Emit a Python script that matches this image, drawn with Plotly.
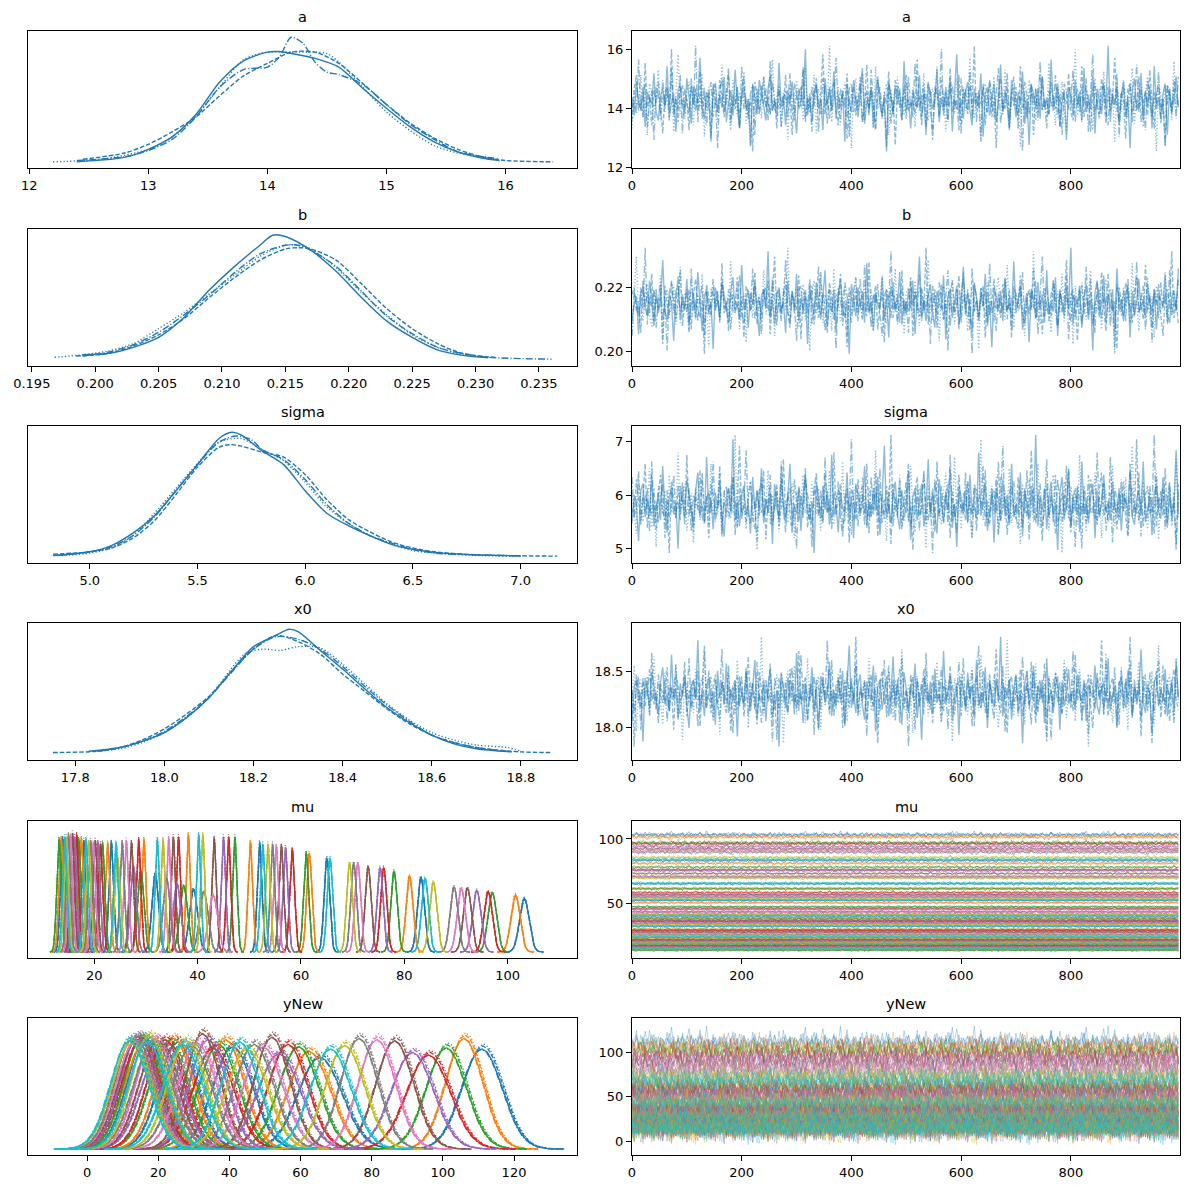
import numpy as np
import plotly.graph_objects as go

TAB10 = ["#1f77b4", "#ff7f0e", "#2ca02c", "#d62728", "#9467bd",
         "#8c564b", "#e377c2", "#7f7f7f", "#bcbd22", "#17becf"]
C0 = "#1f77b4"
C0_TRACE = "rgba(31,119,180,0.5)"
CHAIN_DASH = ["solid", "4.5px,2px", "1.2px,2.2px", "7px,2px,1.2px,2px"]
FONT = "DejaVu Sans"

# ---- densities of the scalar parameters, one list per chain (relative height) ----
A_KDE_X = [
    [12.4, 12.8, 13.0, 13.2, 13.4, 13.6, 13.8, 14.0, 14.1, 14.2, 14.4, 14.6, 14.8, 15.0, 15.2, 15.4, 15.6, 15.8, 15.95],
    [12.45, 12.8, 13.0, 13.2, 13.4, 13.6, 13.8, 14.0, 14.2, 14.4, 14.6, 14.8, 15.0, 15.2, 15.4, 15.6, 15.8, 16.0, 16.4],
    [12.2, 12.6, 13.0, 13.2, 13.4, 13.6, 13.8, 14.0, 14.2, 14.4, 14.5, 14.6, 14.8, 15.0, 15.2, 15.4, 15.6, 15.8, 15.95],
    [12.4, 12.8, 13.0, 13.2, 13.4, 13.6, 13.8, 14.0, 14.1, 14.2, 14.3, 14.4, 14.5, 14.6, 14.8, 15.0, 15.2, 15.4, 15.6, 15.9],
]
A_KDE_Y = [
    [0.0, 0.035, 0.10, 0.20, 0.38, 0.64, 0.81, 0.88, 0.885, 0.87, 0.83, 0.76, 0.59, 0.43, 0.28, 0.16, 0.08, 0.03, 0.01],
    [0.02, 0.07, 0.14, 0.24, 0.36, 0.53, 0.69, 0.79, 0.88, 0.88, 0.79, 0.63, 0.46, 0.31, 0.19, 0.10, 0.04, 0.01, 0.0],
    [0.0, 0.02, 0.10, 0.20, 0.37, 0.60, 0.82, 0.88, 0.88, 0.88, 0.87, 0.80, 0.60, 0.40, 0.25, 0.13, 0.07, 0.04, 0.02],
    [0.01, 0.04, 0.09, 0.18, 0.36, 0.60, 0.74, 0.76, 0.84, 1.0, 0.95, 0.80, 0.72, 0.70, 0.62, 0.46, 0.30, 0.18, 0.08, 0.03],
]
B_KDE_X = [
    [0.199, 0.201, 0.203, 0.205, 0.207, 0.209, 0.211, 0.213, 0.214, 0.215, 0.217, 0.219, 0.221, 0.223, 0.225, 0.227, 0.229, 0.231],
    [0.1985, 0.201, 0.203, 0.205, 0.207, 0.209, 0.211, 0.213, 0.215, 0.216, 0.217, 0.219, 0.221, 0.223, 0.225, 0.227, 0.229, 0.2315],
    [0.1968, 0.199, 0.201, 0.203, 0.205, 0.207, 0.209, 0.211, 0.213, 0.215, 0.216, 0.217, 0.219, 0.221, 0.223, 0.225, 0.227, 0.229, 0.231],
    [0.199, 0.201, 0.203, 0.205, 0.207, 0.209, 0.211, 0.213, 0.215, 0.216, 0.217, 0.219, 0.221, 0.223, 0.225, 0.227, 0.229, 0.231, 0.236],
]
B_KDE_Y = [
    [0.04, 0.05, 0.10, 0.18, 0.34, 0.56, 0.75, 0.92, 1.0, 0.99, 0.88, 0.71, 0.50, 0.31, 0.18, 0.08, 0.035, 0.015],
    [0.03, 0.05, 0.11, 0.20, 0.33, 0.50, 0.66, 0.80, 0.89, 0.90, 0.89, 0.80, 0.61, 0.41, 0.25, 0.13, 0.05, 0.02],
    [0.02, 0.04, 0.07, 0.13, 0.25, 0.38, 0.53, 0.68, 0.83, 0.92, 0.92, 0.89, 0.74, 0.54, 0.36, 0.20, 0.10, 0.04, 0.02],
    [0.03, 0.06, 0.12, 0.22, 0.36, 0.52, 0.70, 0.85, 0.92, 0.92, 0.88, 0.75, 0.55, 0.35, 0.21, 0.10, 0.05, 0.02, 0.005],
]
SIGMA_KDE_X = [
    [4.83, 5.0, 5.1, 5.2, 5.3, 5.4, 5.5, 5.6, 5.66, 5.7, 5.8, 5.9, 6.0, 6.1, 6.2, 6.3, 6.4, 6.5, 6.6, 6.8, 7.0],
    [4.83, 5.0, 5.1, 5.2, 5.3, 5.4, 5.5, 5.6, 5.65, 5.7, 5.8, 5.9, 6.0, 6.1, 6.2, 6.3, 6.4, 6.5, 6.6, 6.8, 7.0, 7.17],
    [4.87, 5.0, 5.1, 5.2, 5.3, 5.4, 5.5, 5.6, 5.7, 5.8, 5.9, 6.0, 6.1, 6.2, 6.3, 6.4, 6.5, 6.6, 6.8, 7.0],
    [4.85, 5.0, 5.1, 5.2, 5.3, 5.4, 5.5, 5.6, 5.68, 5.75, 5.8, 5.9, 6.0, 6.1, 6.2, 6.3, 6.4, 6.5, 6.6, 6.8, 7.0],
]
SIGMA_KDE_Y = [
    [0.01, 0.04, 0.09, 0.19, 0.33, 0.53, 0.74, 0.95, 1.0, 0.98, 0.85, 0.74, 0.53, 0.35, 0.25, 0.17, 0.10, 0.06, 0.035, 0.015, 0.008],
    [0.02, 0.04, 0.07, 0.15, 0.29, 0.50, 0.72, 0.88, 0.90, 0.89, 0.84, 0.80, 0.66, 0.46, 0.30, 0.20, 0.12, 0.07, 0.04, 0.015, 0.008, 0.005],
    [0.01, 0.03, 0.07, 0.17, 0.35, 0.55, 0.75, 0.92, 0.95, 0.86, 0.77, 0.60, 0.40, 0.27, 0.17, 0.10, 0.05, 0.03, 0.01, 0.005],
    [0.01, 0.04, 0.08, 0.17, 0.32, 0.53, 0.74, 0.92, 0.97, 0.94, 0.86, 0.78, 0.62, 0.42, 0.27, 0.17, 0.11, 0.06, 0.03, 0.015, 0.007],
]
X0_KDE_X = [
    [17.83, 17.9, 17.95, 18.0, 18.05, 18.1, 18.15, 18.2, 18.25, 18.28, 18.3, 18.35, 18.4, 18.45, 18.5, 18.55, 18.6, 18.65, 18.7, 18.78],
    [17.75, 17.85, 17.9, 17.95, 18.0, 18.05, 18.1, 18.15, 18.2, 18.25, 18.3, 18.35, 18.4, 18.45, 18.5, 18.55, 18.6, 18.65, 18.7, 18.8, 18.87],
    [17.85, 17.9, 17.95, 18.0, 18.05, 18.1, 18.18, 18.22, 18.26, 18.3, 18.35, 18.4, 18.45, 18.5, 18.55, 18.6, 18.65, 18.7, 18.77, 18.8],
    [17.85, 17.9, 17.95, 18.0, 18.05, 18.1, 18.15, 18.2, 18.25, 18.3, 18.35, 18.4, 18.45, 18.5, 18.55, 18.6, 18.65, 18.7, 18.78],
]
X0_KDE_Y = [
    [0.02, 0.05, 0.10, 0.17, 0.29, 0.45, 0.66, 0.86, 0.95, 1.0, 0.98, 0.83, 0.68, 0.52, 0.37, 0.25, 0.15, 0.08, 0.04, 0.015],
    [0.01, 0.02, 0.05, 0.11, 0.20, 0.32, 0.46, 0.66, 0.84, 0.95, 0.90, 0.80, 0.64, 0.50, 0.36, 0.24, 0.15, 0.09, 0.05, 0.015, 0.01],
    [0.02, 0.04, 0.09, 0.17, 0.29, 0.45, 0.80, 0.84, 0.83, 0.86, 0.85, 0.72, 0.56, 0.40, 0.27, 0.17, 0.11, 0.07, 0.05, 0.02],
    [0.02, 0.05, 0.10, 0.18, 0.30, 0.45, 0.65, 0.84, 0.94, 0.92, 0.84, 0.70, 0.54, 0.39, 0.26, 0.15, 0.09, 0.05, 0.015],
]

# ---- sampler wiggle (standardised, every 4th draw) ----
WIGGLE = [
    0.3, -0.8, 1.2, 0.1, -0.4, 0.9, -1.5, 0.6, 0.2, -0.1,
    1.7, -0.6, -1.1, 0.4, 0.8, -0.3, 2.1, -0.9, 0.0, 0.5,
    -1.8, 0.7, 1.0, -0.2, -0.7, 1.4, 0.3, -1.3, 0.9, -0.5,
    0.2, 2.6, -0.4, -1.0, 0.6, 0.1, -2.2, 0.8, 1.1, -0.6,
    0.4, -0.3, 1.5, -1.2, 0.0, 0.7, -0.8, 1.9, -0.1, -1.6,
    0.5, 0.9, -0.4, 0.2, -2.7, 1.0, 0.3, -0.7, 1.3, 0.6,
    -0.2, -1.1, 0.8, 1.6, -0.5, 0.1, -0.9, 2.3, -0.3, 0.4,
    -1.4, 0.7, 0.0, 1.2, -0.6, -1.9, 0.5, 0.9, -0.2, 3.1,
    -0.8, 0.3, -1.2, 0.6, 1.0, -0.4, 0.2, -1.7, 1.4, -0.1,
    0.8, -0.5, 1.8, -1.0, 0.4, -0.3, 0.7, -2.4, 1.1, 0.0,
    -0.6, 1.3, 0.2, -0.9, 0.5, 2.0, -1.3, 0.1, -0.4, 0.9,
    -1.5, 0.6, 1.5, -0.2, -0.8, 0.3, -3.0, 1.2, 0.4, -0.7,
    1.0, -0.1, 0.8, -1.1, 2.4, -0.5, 0.2, -1.6, 0.7, 0.0,
    -0.3, 1.6, -0.9, 0.5, -2.0, 1.1, 0.6, -0.4, 0.1, 1.9,
    -1.2, 0.3, -0.6, 0.9, -0.2, 1.4, -1.8, 0.4, 2.8, -0.7,
    0.2, -1.0, 0.6, 1.2, -0.5, -1.4, 0.8, 0.1, -0.3, 1.7,
    -2.1, 0.5, 0.9, -0.8, 0.3, 1.1, -1.2, 0.0, 2.2, -0.6,
    0.7, -0.2, -1.7, 1.3, 0.4, -0.9, 0.6, -0.1, 1.8, -1.3,
    0.2, -2.6, 1.0, 0.5, -0.4, 0.8, -1.0, 1.5, -0.3, 0.1,
    -0.7, 2.5, -0.5, 0.3, 1.1, -1.5, 0.0, 0.7, -2.3, 0.9,
    0.4, -0.8, 1.3, -0.2, 0.6, -1.1, 2.0, -0.6, 0.2, -0.4,
    1.6, -1.9, 0.8, 0.1, -0.7, 1.0, -0.3, 3.3, -1.2, 0.5,
    -0.1, 0.9, -1.4, 0.4, 1.2, -0.9, 0.3, -2.8, 0.7, 1.4,
    -0.5, 0.0, 1.7, -1.1, 0.6, -0.2, 0.9, -1.6, 2.1, -0.4,
    0.3, -1.0, 0.5, 1.1, -2.0, 0.8, -0.6, 0.2, 1.5, -0.3,
]
DRAW_STEP = 4

# trace centre / spread (upper, lower) and where each chain starts in the wiggle
A_TRACE = (14.2, 0.58, 0.55)
B_TRACE = (0.2145, 0.0054, 0.0051)
SIGMA_TRACE = (5.75, 0.42, 0.28)
X0_TRACE = (18.28, 0.16, 0.15)
A_ROT = [0, 61, 127, 188]
B_ROT = [17, 83, 146, 211]
SIGMA_ROT = [33, 99, 170, 229]
X0_ROT = [49, 115, 158, 240]

# ---- mu components: centre, peak height, width ----
MU_CENTER = [103.2, 101.5, 97.0, 96.2, 94.0, 92.2, 91.0, 89.6, 85.6, 84.0,
             83.2, 81.0, 78.0, 76.0, 75.3, 73.0, 71.0, 70.2, 69.4, 65.6,
             65.0, 61.6, 61.0, 58.3, 57.0, 56.2, 55.2, 54.5, 53.6, 52.6,
             52.0, 50.2, 47.2, 46.0, 45.0, 43.2, 43.0, 41.2, 41.0, 40.2,
             39.2, 38.2, 37.3, 36.3, 36.0, 35.3, 34.4, 34.0, 33.3, 32.2,
             31.8, 29.6, 29.0, 28.6, 27.6, 27.2, 26.2, 25.4, 24.5, 24.2,
             23.3, 22.6, 21.6, 21.2, 20.7, 20.2, 19.8, 19.3, 18.9, 18.4,
             18.0, 17.5, 17.0, 16.6, 16.2, 15.8, 15.4, 15.0, 14.6, 14.3,
             13.9, 13.6, 13.2]
MU_HEIGHT = [0.45, 0.48, 0.50, 0.51, 0.52, 0.54, 0.54, 0.55, 0.59, 0.62,
             0.63, 0.64, 0.68, 0.71, 0.71, 0.72, 0.75, 0.75, 0.75, 0.79,
             0.79, 0.83, 0.84, 0.87, 0.88, 0.90, 0.90, 0.91, 0.91, 0.91,
             0.92, 0.93, 0.97, 0.97, 0.97, 0.96, 0.48, 0.51, 0.99, 0.99,
             0.53, 0.99, 0.56, 0.97, 0.58, 0.97, 0.96, 0.62, 0.95, 0.95,
             0.66, 0.95, 0.69, 0.95, 0.72, 0.93, 0.94, 0.93, 0.80, 0.92,
             0.93, 0.92, 0.92, 0.91, 0.93, 0.94, 0.92, 0.94, 0.93, 0.95,
             0.94, 0.96, 0.95, 0.99, 0.97, 1.00, 0.98, 0.99, 0.97, 0.97,
             0.96, 0.96, 0.95]
MU_SD = [0.93, 0.88, 0.84, 0.82, 0.81, 0.78, 0.78, 0.76, 0.71, 0.68,
         0.67, 0.66, 0.62, 0.59, 0.59, 0.58, 0.56, 0.56, 0.56, 0.53,
         0.53, 0.51, 0.50, 0.48, 0.48, 0.47, 0.47, 0.46, 0.46, 0.46,
         0.46, 0.45, 0.43, 0.43, 0.43, 0.44, 0.88, 0.82, 0.42, 0.42,
         0.79, 0.42, 0.75, 0.43, 0.72, 0.43, 0.44, 0.68, 0.44, 0.44,
         0.64, 0.44, 0.61, 0.44, 0.58, 0.45, 0.45, 0.45, 0.53, 0.46,
         0.45, 0.46, 0.46, 0.46, 0.45, 0.45, 0.46, 0.45, 0.45, 0.44,
         0.45, 0.44, 0.44, 0.42, 0.43, 0.42, 0.43, 0.42, 0.43, 0.43,
         0.44, 0.44, 0.44]
MU_CHAIN_SHIFT = [0.0, 0.04, -0.03, 0.02]
MU_CHAIN_HEIGHT = [1.0, 0.98, 1.02, 0.99]

# ---- yNew components ----
YNEW_CENTER = [111.0, 106.0, 101.0, 96.0, 91.5, 86.5, 81.5, 76.5, 72.5, 68.5,
               65.5, 62.5, 59.5, 56.5, 54.0, 52.0, 49.5, 47.0, 45.0, 43.0,
               41.0, 39.0, 37.0, 35.5, 34.0, 32.5, 31.0, 29.5, 28.0, 27.0,
               25.5, 24.5, 23.0, 22.0, 21.0, 20.0, 19.0, 18.5, 17.5, 17.0,
               16.5, 16.0, 15.5, 15.0, 14.5, 14.0, 13.5, 13.0, 12.5, 12.0]
YNEW_HEIGHT = [0.84, 0.93, 0.85, 0.79, 0.81, 0.91, 0.92, 0.93, 0.87, 0.84,
               0.77, 0.82, 0.86, 0.88, 0.80, 0.94, 0.86, 0.88, 0.84, 0.90,
               0.86, 0.92, 0.88, 0.85, 0.92, 0.97, 0.89, 0.87, 0.91, 0.88,
               0.90, 0.93, 0.89, 0.92, 0.88, 0.91, 0.93, 0.89, 0.95, 0.90,
               0.93, 0.88, 0.94, 0.91, 0.95, 0.92, 0.90, 0.93, 0.89, 0.91]
YNEW_SD = [5.7, 5.2, 5.6, 6.1, 5.9, 5.3, 5.2, 5.2, 5.5, 5.7,
           6.2, 5.9, 5.6, 5.5, 6.0, 5.1, 5.6, 5.5, 5.7, 5.3,
           5.6, 5.2, 5.5, 5.6, 5.2, 4.9, 5.4, 5.5, 5.3, 5.5,
           5.3, 5.2, 5.4, 5.2, 5.5, 5.3, 5.2, 5.4, 5.1, 5.3,
           5.2, 5.5, 5.1, 5.3, 5.1, 5.2, 5.3, 5.2, 5.4, 5.3]
YNEW_CHAIN_SHIFT = [0.0, 0.05, 0.08, -0.03]
YNEW_CHAIN_HEIGHT = [1.0, 1.03, 1.05, 1.0]

# bell profile of a single density bump (in sd units)
BUMP_Z = [-4.0, -3.75, -3.5, -3.25, -3.0, -2.75, -2.5, -2.25, -2.0, -1.75, -1.5, -1.25, -1.0, -0.75, -0.5, -0.25,
          0.0, 0.25, 0.5, 0.75, 1.0, 1.25, 1.5, 1.75, 2.0, 2.25, 2.5, 2.75, 3.0, 3.25, 3.5, 3.75, 4.0]
BUMP_P = [0.0003, 0.0009, 0.0022, 0.0051, 0.0111, 0.0228, 0.0439, 0.0796, 0.1353, 0.2163, 0.3247, 0.4578,
          0.6065, 0.7548, 0.8825, 0.9692, 1.0, 0.9692, 0.8825, 0.7548, 0.6065, 0.4578, 0.3247, 0.2163,
          0.1353, 0.0796, 0.0439, 0.0228, 0.0111, 0.0051, 0.0022, 0.0009, 0.0003]

# ---- panel geometry (pixels on the page; the page has a ~7px body margin) ----
W_PX, H_PX = 1189, 1189
PAGE_OFF = 7
LEFT_PX = (27 - PAGE_OFF, 576 - PAGE_OFF)
RIGHT_PX = (631 - PAGE_OFF, 1179 - PAGE_OFF)
ROW_TOP_PX = [t - PAGE_OFF for t in (30, 228, 425, 622, 820, 1017)]
ROW_H_PX = 137

fig = go.Figure()
wig = np.array(WIGGLE)
draws = np.arange(len(WIGGLE)) * DRAW_STEP


def ax_ids(n):
    return ("x" if n == 1 else f"x{n}"), ("y" if n == 1 else f"y{n}")


def style_axes(n, row, left, xrange, xticks, xfmt, yrange, yticks=None, yfmt=None):
    x0, x1 = LEFT_PX if left else RIGHT_PX
    top = ROW_TOP_PX[row]
    common = dict(showline=True, mirror=True, linecolor="black", linewidth=1,
                  showgrid=False, zeroline=False, ticks="outside", ticklen=5,
                  tickwidth=1, tickcolor="black", automargin=False,
                  tickfont=dict(family=FONT, size=13, color="black"))
    xa = dict(common, domain=[x0 / W_PX, x1 / W_PX], range=xrange,
              tickvals=xticks, ticktext=[format(v, xfmt) for v in xticks],
              anchor=ax_ids(n)[1])
    ya = dict(common, domain=[1 - (top + ROW_H_PX) / H_PX, 1 - top / H_PX],
              range=yrange, anchor=ax_ids(n)[0])
    if yticks is None:
        ya.update(ticks="", showticklabels=False)
    else:
        ya.update(tickvals=yticks, ticktext=[format(v, yfmt) for v in yticks])
    key = "" if n == 1 else str(n)
    fig.update_layout(**{f"xaxis{key}": xa, f"yaxis{key}": ya})


def add_title(text, row, left):
    x0, x1 = LEFT_PX if left else RIGHT_PX
    fig.add_annotation(text=text, xref="paper", yref="paper",
                       x=(x0 + x1) / 2 / W_PX, y=1 - ROW_TOP_PX[row] / H_PX,
                       xanchor="center", yanchor="bottom", yshift=4, showarrow=False,
                       font=dict(family=FONT, size=14.5, color="black"))


def add_scalar(row, name, kde_x, kde_y, trace, rots, kde_range, kde_ticks, kde_fmt,
               tr_range, tr_ticks, tr_fmt):
    nl, nr = 2 * row + 1, 2 * row + 2
    xl, yl = ax_ids(nl)
    xr, yr = ax_ids(nr)
    centre, up, down = trace
    for c in range(4):
        fig.add_trace(go.Scatter(x=kde_x[c], y=kde_y[c], mode="lines", xaxis=xl, yaxis=yl,
                                 line=dict(color=C0, width=1.4, dash=CHAIN_DASH[c], shape="spline", smoothing=0.8),
                                 showlegend=False, hoverinfo="skip"))
    for c in range(4):
        w = np.roll(wig, -rots[c])
        vals = np.where(w > 0, centre + up * w, centre + down * w)
        fig.add_trace(go.Scatter(x=draws, y=vals, mode="lines", xaxis=xr, yaxis=yr,
                                 line=dict(color=C0_TRACE, width=1.4, dash=CHAIN_DASH[c]),
                                 showlegend=False, hoverinfo="skip"))
    style_axes(nl, row, True, kde_range, kde_ticks, kde_fmt, [-0.05, 1.05])
    style_axes(nr, row, False, [0, 999], [0, 200, 400, 600, 800], "d", tr_range, tr_ticks, tr_fmt)
    add_title(name, row, True)
    add_title(name, row, False)


def add_vector(row, name, centers, heights, sds, shifts, hscale, kde_range, kde_ticks,
               tr_range, tr_ticks, alpha):
    nl, nr = 2 * row + 1, 2 * row + 2
    xl, yl = ax_ids(nl)
    xr, yr = ax_ids(nr)
    z = np.array(BUMP_Z)
    p = np.array(BUMP_P)
    n = len(centers)
    # densities: one trace per colour and chain style
    for k in range(10):
        idx = [i for i in range(n) if i % 10 == k]
        for c in range(4):
            xs, ys = [], []
            for i in idx:
                xs += list(centers[i] + sds[i] * (z + shifts[c])) + [None]
                ys += list(heights[i] * hscale[c] * p) + [None]
            fig.add_trace(go.Scatter(x=xs, y=ys, mode="lines", xaxis=xl, yaxis=yl,
                                     line=dict(color=TAB10[k], width=1.3, dash=CHAIN_DASH[c]),
                                     showlegend=False, hoverinfo="skip"))
    # traces: one trace per colour
    for k in range(10):
        xs, ys = [], []
        for i in range(k, n, 10):
            for c in range(4):
                w = np.roll(wig, -((i * 37 + c * 61) % len(WIGGLE)))
                xs += list(draws) + [None]
                ys += list(centers[i] + sds[i] * w) + [None]
        r, g, b = (int(TAB10[k][j:j + 2], 16) for j in (1, 3, 5))
        fig.add_trace(go.Scatter(x=xs, y=ys, mode="lines", xaxis=xr, yaxis=yr,
                                 line=dict(color=f"rgba({r},{g},{b},{alpha})", width=0.9),
                                 showlegend=False, hoverinfo="skip"))
    style_axes(nl, row, True, kde_range, kde_ticks, "d", [-0.05, 1.1])
    style_axes(nr, row, False, [0, 999], [0, 200, 400, 600, 800], "d", tr_range, tr_ticks, "d")
    add_title(name, row, True)
    add_title(name, row, False)


add_scalar(0, "a", A_KDE_X, A_KDE_Y, A_TRACE, A_ROT, [11.99, 16.6], [12, 13, 14, 15, 16], "d",
           [11.99, 16.61], [12, 14, 16], "d")
add_scalar(1, "b", B_KDE_X, B_KDE_Y, B_TRACE, B_ROT, [0.1947, 0.2380],
           [0.195, 0.200, 0.205, 0.210, 0.215, 0.220, 0.225, 0.230, 0.235], ".3f",
           [0.1954, 0.2382], [0.20, 0.22], ".2f")
add_scalar(2, "sigma", SIGMA_KDE_X, SIGMA_KDE_Y, SIGMA_TRACE, SIGMA_ROT, [4.713, 7.262],
           [5.0, 5.5, 6.0, 6.5, 7.0], ".1f", [4.72, 7.30], [5, 6, 7], ".0f")
add_scalar(3, "x0", X0_KDE_X, X0_KDE_Y, X0_TRACE, X0_ROT, [17.694, 18.926],
           [17.8, 18.0, 18.2, 18.4, 18.6, 18.8], ".1f", [17.71, 18.93], [18.0, 18.5], ".1f")
add_vector(4, "mu", MU_CENTER, MU_HEIGHT, MU_SD, MU_CHAIN_SHIFT, MU_CHAIN_HEIGHT,
           [7.2, 113.4], [20, 40, 60, 80, 100], [7.2, 114.0], [50, 100], 0.45)
add_vector(5, "yNew", YNEW_CENTER, YNEW_HEIGHT, YNEW_SD, YNEW_CHAIN_SHIFT, YNEW_CHAIN_HEIGHT,
           [-16.6, 137.7], [0, 20, 40, 60, 80, 100, 120], [-15.5, 139.0], [0, 50, 100], 0.35)

fig.update_layout(width=W_PX, height=H_PX, autosize=False,
                  margin=dict(l=0, r=0, t=0, b=0, autoexpand=False),
                  paper_bgcolor="white", plot_bgcolor="white",
                  showlegend=False)

fig.write_html("out.html")
